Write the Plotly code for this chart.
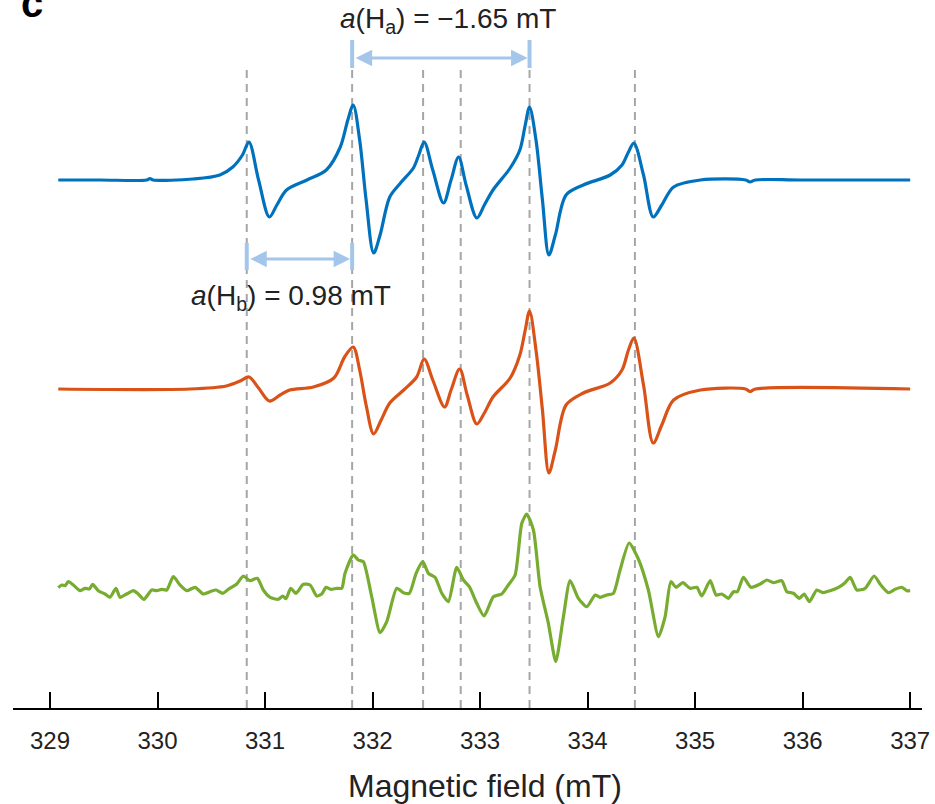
import plotly.graph_objects as go

# -- EPR spectra (field in mT, intensity in arbitrary units)
FIELD_BLUE = [329.077, 329.465, 329.90, 329.93, 329.96, 330.33, 330.58, 330.70, 330.79, 330.85,
              330.94, 331.04, 331.11, 331.20, 331.39, 331.57, 331.70, 331.77, 331.82, 331.88,
              331.94, 332.01, 332.07, 332.16, 332.26, 332.38, 332.43, 332.48, 332.56, 332.66,
              332.73, 332.80, 332.87, 332.97, 333.04, 333.12, 333.28, 333.37, 333.42, 333.46,
              333.52, 333.58, 333.64, 333.70, 333.80, 333.96, 334.21, 334.32, 334.38, 334.43,
              334.52, 334.61, 334.69, 334.80, 335.05, 335.47, 335.51, 335.56, 335.98, 337.00]
INT_BLUE = [0, 0, 0, 1.5, 0, 1, 5, 13, 25, 38,
            0, -37, -25, -10, 0, 10, 33, 60, 75, 40,
            -20, -73, -55, -17, -3, 12, 25, 38, 10, -23,
            0, 23, -5, -38, -25, -10, 12, 30, 55, 73,
            40, -20, -75, -55, -15, -5, 5, 15, 28, 37,
            5, -37, -25, -7, 0, 0, -2, 0, 0, 0]

FIELD_ORANGE = [329.077, 330.30, 330.64, 330.77, 330.85, 330.94, 331.04, 331.14, 331.23, 331.45,
                331.64, 331.74, 331.82, 331.88, 331.94, 332.01, 332.08, 332.16, 332.29, 332.41,
                332.48, 332.56, 332.67, 332.73, 332.81, 332.88, 332.97, 333.04, 333.12, 333.28,
                333.37, 333.42, 333.46, 333.52, 333.58, 333.64, 333.70, 333.80, 333.96, 334.21,
                334.32, 334.38, 334.43, 334.52, 334.61, 334.69, 334.80, 335.05, 335.47, 335.51,
                335.56, 337.00]
INT_ORANGE = [0, 0, 3, 8, 12, 1, -12, -6, -1, 2,
              11, 32, 42, 19, -16, -45, -31, -14, -1, 12,
              30, 9, -18, -1, 20, -6, -35, -24, -8, 11,
              34, 59, 78, 39, -21, -84, -61, -16, -4, 6,
              19, 39, 51, 4, -54, -36, -11, -1, 0, -2.5,
              0, 0]

FIELD_GREEN = [329.077, 329.109, 329.140, 329.170, 329.217, 329.279, 329.326, 329.366, 329.397, 329.449,
               329.512, 329.558, 329.614, 329.651, 329.713, 329.775, 329.821, 329.874, 329.946, 329.993,
               330.039, 330.086, 330.147, 330.209, 330.272, 330.349, 330.426, 330.488, 330.544, 330.607,
               330.659, 330.737, 330.798, 330.860, 330.928, 330.984, 331.047, 331.124, 331.165, 331.195,
               331.239, 331.288, 331.356, 331.419, 331.481, 331.527, 331.567, 331.611, 331.667, 331.713,
               331.744, 331.821, 331.868, 331.914, 331.992, 332.070, 332.132, 332.225, 332.287, 332.342,
               332.405, 332.467, 332.519, 332.581, 332.644, 332.705, 332.783, 332.845, 332.900, 332.969,
               333.037, 333.124, 333.202, 333.263, 333.326, 333.388, 333.434, 333.496, 333.558, 333.635,
               333.704, 333.775, 333.837, 333.914, 333.993, 334.070, 334.116, 334.179, 334.240, 334.302,
               334.386, 334.472, 334.565, 334.659, 334.721, 334.774, 334.823, 334.886, 334.953, 335.016,
               335.062, 335.140, 335.195, 335.248, 335.310, 335.357, 335.393, 335.449, 335.518, 335.605,
               335.667, 335.728, 335.806, 335.853, 335.914, 335.970, 336.014, 336.063, 336.132, 336.188,
               336.256, 336.333, 336.395, 336.442, 336.504, 336.581, 336.665, 336.727, 336.798, 336.860,
               336.923, 336.970, 337.000]
INT_GREEN = [1.3, 4, 3.3, 7.3, 4, -1.7, 0.7, 0, 4.7, -1.7,
             -5, -8.3, 0.7, -8.3, -5, -1.7, -5, -10.3, -1, -1.7,
             -0.3, -1, 12.3, 4, -1.7, 1.7, -5, -2.7, -1, -4.3,
             -0.3, 5, 13, 8.3, 10.7, -1, -8.3, -10.3, -7, -9.7,
             0.7, -4.3, 4.7, 4, -7, -5, 1.7, -0.3, 0.7, 0.7,
             15.7, 34, 29, 27.3, -7.7, -43.7, -32.7, 0.7, -3.7, -4.3,
             15.7, 27.3, 15.7, 11.7, -4.3, -12.7, 21.7, 9, 2.3, -14.3,
             -27, -7.7, -5, 4, 14, 65.7, 75, 59, 2.3, -34.3,
             -72.7, -27.7, 8.3, -9.3, -17.7, -6, -8.3, -6, -4.3, 19,
             46, 30, -1, -47.7, -27.7, 7.3, 1.7, 6.3, 0.7, 1.7,
             -7, 8.3, -6, -5, -9.3, -2.7, -2.7, 11.7, 1.7, 5,
             9, 6.3, 8.3, -2.7, -4.3, -9.3, -5, -12.7, -1, -3.7,
             -1.7, 1.7, 6.3, 11.7, -1, 0.7, 13, 4, -3.7, -0.3,
             1.7, -1.7, -1.7]

# vertical offsets that stack the three spectra
OFFSET_BLUE, OFFSET_ORANGE, OFFSET_GREEN = 528, 319, 119

# hyperfine line positions (mT)
LINES = [330.83, 331.81, 332.47, 332.82, 333.46, 334.44]
HA = (331.81, 333.46)
HB = (330.83, 331.81)

TICKS = [329, 330, 331, 332, 333, 334, 335, 336, 337]

FONT = "Liberation Sans, Arial, sans-serif"
ARROW_C = "#a3c6ea"
DASH_C = "#a6a6a6"

fig = go.Figure()

for x in LINES:
    fig.add_shape(type="line", xref="x", yref="y", x0=x, x1=x, y0=0, y1=640,
                  line=dict(color=DASH_C, width=2, dash="8px,6px"), layer="below")

for fx, iy, off, col, sm in [(FIELD_BLUE, INT_BLUE, OFFSET_BLUE, "#0072BD", 0.9),
                             (FIELD_ORANGE, INT_ORANGE, OFFSET_ORANGE, "#D95319", 0.9),
                             (FIELD_GREEN, INT_GREEN, OFFSET_GREEN, "#77AC30", 0.6)]:
    fig.add_trace(go.Scatter(
        x=fx, y=[v + off for v in iy], mode="lines",
        line=dict(color=col, width=3.2, shape="spline", smoothing=sm),
        hoverinfo="skip", showlegend=False))

# hyperfine coupling arrows: end bars + double-headed arrow
for (x0, x1), yb0, yb1, ya in [(HA, 640, 668, 650), (HB, 438, 465, 449)]:
    for x in (x0, x1):
        fig.add_shape(type="line", xref="x", yref="y", x0=x, x1=x, y0=yb0, y1=yb1,
                      line=dict(color=ARROW_C, width=4))
    fig.add_annotation(x=x1, y=ya, ax=x0, ay=ya, xref="x", yref="y",
                       axref="x", ayref="y", text="", showarrow=True,
                       arrowhead=2, arrowsize=1.1, arrowwidth=3,
                       arrowside="end+start", arrowcolor=ARROW_C,
                       standoff=2, startstandoff=2)

fig.add_annotation(x=332.70, y=688, xref="x", yref="y",
                   text="<i>a</i>(H<sub>a</sub>) = \u22121.65 mT", showarrow=False,
                   font=dict(family=FONT, size=28, color="#222"))
fig.add_annotation(x=331.24, y=411, xref="x", yref="y",
                   text="<i>a</i>(H<sub>b</sub>) = 0.98 mT", showarrow=False,
                   font=dict(family=FONT, size=28, color="#222"))

fig.add_annotation(x=0.021, y=1, xref="paper", yref="paper", xanchor="center",
                   yanchor="bottom", yshift=-27, text="<b>c</b>", showarrow=False,
                   font=dict(family=FONT, size=40, color="black"))

# axis title placed as annotation (sits slightly right of the plot centre)
fig.add_annotation(x=0.519, y=0, xref="paper", yref="paper", xanchor="center",
                   yanchor="middle", yshift=-78, text="Magnetic field (mT)",
                   showarrow=False, font=dict(family=FONT, size=32, color="#222"))

fig.update_layout(
    width=935, height=804,
    margin=dict(l=13, r=13, t=0, b=96),
    plot_bgcolor="white", paper_bgcolor="white",
    font=dict(family=FONT, color="#222"),
    xaxis=dict(range=[328.656, 337.11], tickvals=TICKS,
               ticktext=[str(t) for t in TICKS],
               ticks="inside", ticklen=16, tickwidth=1.5, tickcolor="black",
               showline=True, linecolor="black", linewidth=1.5,
               showgrid=False, zeroline=False, tickfont=dict(size=24),
               ticklabelstandoff=10),
    yaxis=dict(range=[0, 708], visible=False, showgrid=False, zeroline=False),
)

# page body has an 8px default margin; drop it so the figure fills the window
fig.write_html("out.html", config={"displayModeBar": False},
               post_script="document.body.style.margin='0';")
